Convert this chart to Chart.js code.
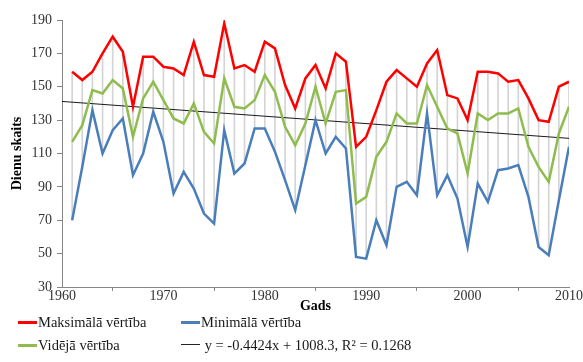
<!DOCTYPE html>
<html lang="lv">

<head>
    <meta charset="UTF-8">
    <title>Dienu skaits</title>
    <script src="https://cdn.jsdelivr.net/npm/chart.js@4.4.1/dist/chart.umd.min.js"></script>
    <style>
        body { margin: 0; background: #fff; }
        #wrap { position: relative; width: 583px; height: 362px; }
        .leg { position: absolute; font-family: "Liberation Serif", "Times New Roman", serif; font-size: 14.5px; color: #1a1a1a; white-space: nowrap; line-height: 16px; }
        .sw { display: inline-block; width: 19px; height: 2.5px; vertical-align: middle; margin-right: 1px; position: relative; top: -1px; }
    </style>
</head>

<body>
    <div id="wrap">
        <canvas id="chart" width="583" height="362"></canvas>
        <div class="leg" style="left:18px; top:314px;"><span class="sw" style="background:#ff0000"></span>Maksimālā vērtība</div>
        <div class="leg" style="left:181px; top:314px;"><span class="sw" style="background:#4a7ebb"></span>Minimālā vērtība</div>
        <div class="leg" style="left:18px; top:337px;"><span class="sw" style="background:#8fbc4f"></span>Vidējā vērtība</div>
        <div class="leg" style="left:181px; top:337px;"><span class="sw" style="background:#222; height:1px; top:-2px"></span> y = -0.4424x + 1008.3, R² = 0.1268</div>
    </div>

    <script>
        // years and values
        const years = [];
        for (let y = 1961; y <= 2010; y++) years.push(y);

        const maxVals = [159, 154, 159, 170, 180, 171, 138, 168, 168, 162,
            161, 157, 177, 157, 156, 188, 161, 163, 159, 177,
            173, 151, 137, 155, 163, 149, 170, 165, 114, 120,
            136, 153, 160, 155, 150, 164, 172, 145, 143, 130,
            159, 159, 158, 153, 154, 143, 130, 129, 150, 153];

        const avgVals = [117, 127, 148, 146, 154, 149, 120, 143, 153, 142,
            131, 128, 140, 123, 116, 155, 138, 137, 142, 157,
            147, 126, 115, 128, 150, 128, 147, 148, 80, 84,
            108, 117, 134, 128, 128, 151, 138, 125, 122, 98,
            134, 130, 134, 134, 137, 114, 102, 93, 122, 138];

        const minVals = [70, 102, 136, 110, 124, 131, 97, 110, 135, 117,
            86, 99, 89, 74, 68, 124, 98, 104, 125, 125,
            111, 94, 76, 103, 130, 110, 120, 113, 48, 47,
            70, 55, 90, 93, 85, 134, 85, 97, 83, 54,
            92, 81, 100, 101, 103, 84, 54, 49, 82, 114];

        // linear trend as given in the legend
        const slope = -0.4424;
        const intercept = 1008.3;
        const trendYears = [1960, 2010];

        const yTicks = { min: 30, max: 190, step: 20 };
        const xTicks = { min: 1960, max: 2010, step: 10 };

        const pts = (xs, ys) => xs.map((x, i) => ({ x: x, y: ys[i] }));

        const serif = '"Liberation Serif", "Times New Roman", serif';
        const axisGrey = '#868686';

        const ctx = document.getElementById('chart').getContext('2d');
        new Chart(ctx, {
            type: 'line',
            data: {
                datasets: [
                    {
                        type: 'bar',
                        label: 'range',
                        data: years.map((x, i) => ({ x: x, y: [minVals[i], maxVals[i]] })),
                        backgroundColor: '#d4d4d4',
                        barThickness: 1,
                        order: 10
                    },
                    {
                        label: 'Trend',
                        data: trendYears.map(x => ({ x: x, y: slope * x + intercept })),
                        borderColor: '#1a1a1a',
                        borderWidth: 1,
                        pointRadius: 0,
                        order: 5
                    },
                    {
                        label: 'Minimālā vērtība',
                        data: pts(years, minVals),
                        borderColor: '#4a7ebb',
                        borderWidth: 2.5,
                        pointRadius: 0,
                        order: 3
                    },
                    {
                        label: 'Vidējā vērtība',
                        data: pts(years, avgVals),
                        borderColor: '#8fbc4f',
                        borderWidth: 2.5,
                        pointRadius: 0,
                        order: 2
                    },
                    {
                        label: 'Maksimālā vērtība',
                        data: pts(years, maxVals),
                        borderColor: '#ff0000',
                        borderWidth: 2.5,
                        pointRadius: 0,
                        order: 1
                    }
                ]
            },
            options: {
                responsive: false,
                animation: false,
                devicePixelRatio: 1,
                layout: { padding: { left: 9, top: 20, right: 14, bottom: 47 } },
                plugins: { legend: { display: false }, tooltip: { enabled: false } },
                scales: {
                    x: {
                        type: 'linear',
                        offset: false,
                        min: xTicks.min,
                        max: xTicks.max,
                        ticks: {
                            stepSize: xTicks.step,
                            callback: v => String(v),
                            font: { family: serif, size: 14 },
                            color: '#333',
                            padding: -3,
                            maxRotation: 0
                        },
                        grid: { drawOnChartArea: false, drawTicks: true, tickLength: 4, color: axisGrey },
                        border: { display: true, color: axisGrey },
                        title: {
                            display: true,
                            text: 'Gads',
                            font: { family: serif, size: 14, weight: 'bold' },
                            color: '#000',
                            padding: 0
                        },
                        afterFit: s => { s.height = 28; }
                    },
                    y: {
                        min: yTicks.min,
                        max: yTicks.max,
                        ticks: {
                            stepSize: yTicks.step,
                            font: { family: serif, size: 14 },
                            color: '#333',
                            padding: 5
                        },
                        grid: { drawOnChartArea: false, drawTicks: true, tickLength: 5, color: axisGrey },
                        border: { display: true, color: axisGrey },
                        title: {
                            display: true,
                            text: 'Dienu skaits',
                            font: { family: serif, size: 14, weight: 'bold' },
                            color: '#000',
                            padding: 0
                        },
                        afterFit: s => { s.width = 53; }
                    }
                }
            }
        });
    </script>

</body>

</html>
